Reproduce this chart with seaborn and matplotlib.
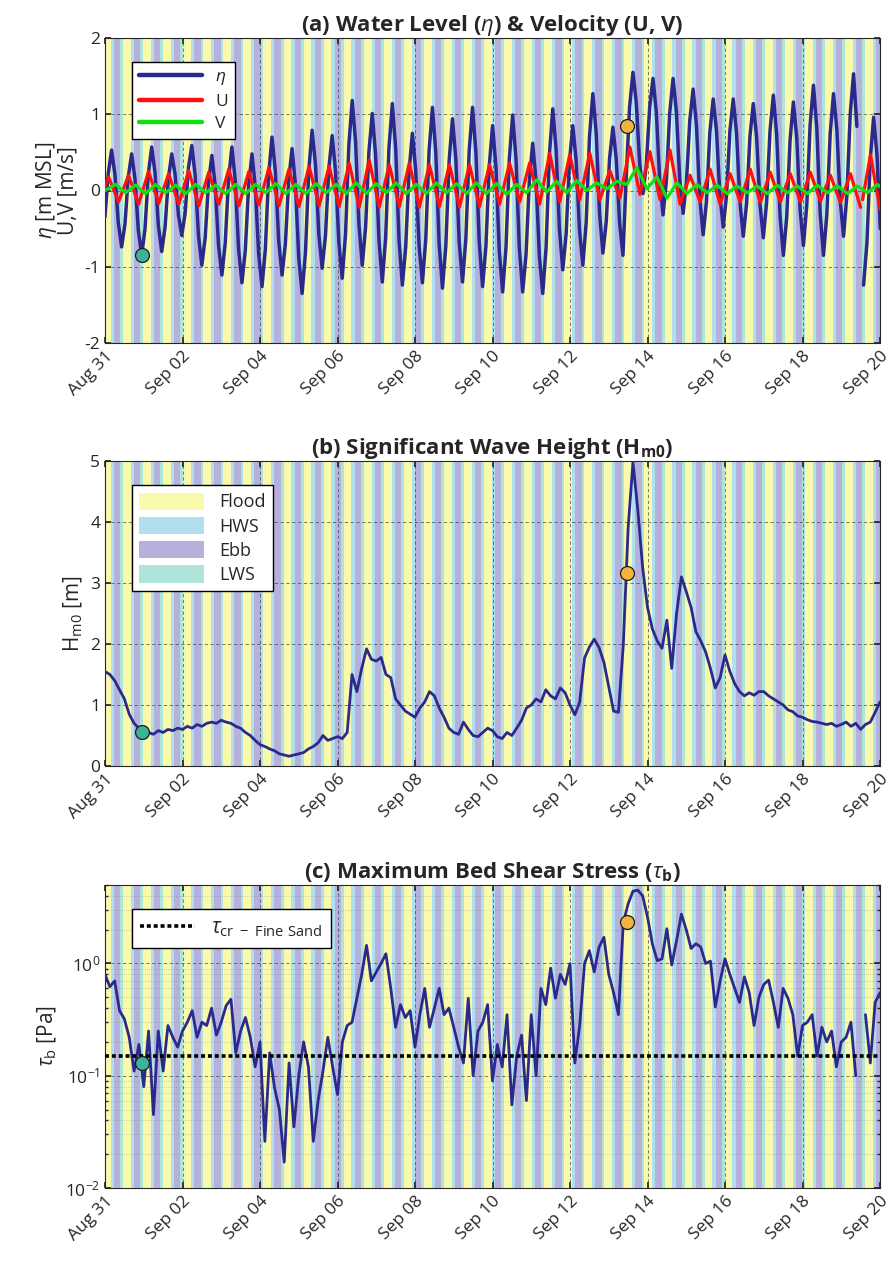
import numpy as np
import pandas as pd
import matplotlib
matplotlib.use("Agg")
import matplotlib.pyplot as plt
import matplotlib.dates as mdates
from matplotlib.patches import Patch
from matplotlib.lines import Line2D
import seaborn as sns

# ===========================
# 1. DATA
# ===========================
START = pd.Timestamp("2019-08-31")
M2 = 0.5175          # tidal period [days]
HW0, LW0 = 0.17, 0.43  # first high / low water [days after START]

# water level, sampled every M2/6 (~2 h) starting just before the first HW
ETA_T0 = -0.0025
eta = [-0.35, 0.22,
       0.53, 0.21, -0.42, -0.74, -0.44, 0.18,
       0.48, 0.15, -0.52, -0.85, -0.50, 0.22,
       0.57, 0.23, -0.46, -0.80, -0.48, 0.16,
       0.48, 0.21, -0.32, -0.59, -0.30, 0.30,
       0.59, 0.20, -0.59, -0.98, -0.62, 0.10,
       0.46, 0.07, -0.72, -1.11, -0.69, 0.15,
       0.57, 0.13, -0.77, -1.21, -0.79, 0.06,
       0.48, 0.05, -0.83, -1.26, -0.77, 0.21,
       0.70, 0.25, -0.66, -1.11, -0.70, 0.14,
       0.55, 0.08, -0.88, -1.35, -0.82, 0.26,
       0.79, 0.34, -0.57, -1.02, -0.59, 0.29,
       0.72, 0.25, -0.68, -1.15, -0.57, 0.60,
       1.18, 0.64, -0.44, -0.98, -0.48, 0.51,
       1.01, 0.46, -0.65, -1.20, -0.62, 0.56,
       1.14, 0.55, -0.65, -1.24, -0.74, 0.25,
       0.75, 0.26, -0.72, -1.21, -0.64, 0.52,
       1.09, 0.50, -0.69, -1.28, -0.73, 0.39,
       0.94, 0.41, -0.67, -1.20, -0.63, 0.52,
       1.09, 0.50, -0.67, -1.26, -0.73, 0.32,
       0.85, 0.31, -0.79, -1.33, -0.75, 0.41,
       0.99, 0.41, -0.75, -1.33, -0.84, 0.13,
       0.62, 0.13, -0.86, -1.35, -0.75, 0.47,
       1.07, 0.54, -0.51, -1.04, -0.57, 0.38,
       0.85, 0.39, -0.52, -0.98, -0.42, 0.71,
       1.27, 0.75, -0.30, -0.82, -0.41, 0.42,
       0.83, 0.41, -0.43, -0.85, 0.20, 1.10,
       1.55, 1.15, 0.36, -0.04, 0.34, 1.09,
       1.47, 1.02, 0.13, -0.32, 0.13, 1.02,
       1.47, 1.03, 0.14, -0.30, 0.11, 0.92,
       1.33, 0.85, -0.10, -0.58, -0.14, 0.76,
       1.20, 0.78, -0.06, -0.48, -0.06, 0.78,
       1.20, 0.75, -0.15, -0.60, -0.17, 0.71,
       1.14, 0.70, -0.18, -0.62, -0.15, 0.78,
       1.25, 0.73, -0.33, -0.85, -0.35, 0.66,
       1.16, 0.69, -0.25, -0.72, -0.20, 0.86,
       1.38, 0.82, -0.29, -0.85, -0.32, 0.74,
       1.27, 0.80, -0.13, -0.60, -0.07, 1.00,
       1.53, 0.84, np.nan, -1.24, -0.69, 0.41,
       0.96, 0.47, -0.50]

# velocity extremes, one per tide
u_max = [0.18, 0.20, 0.25, 0.22, 0.26, 0.24, 0.28, 0.25, 0.30, 0.28,
         0.32, 0.32, 0.36, 0.40, 0.34, 0.36, 0.34, 0.34, 0.34, 0.34,
         0.36, 0.36, 0.49, 0.47, 0.49, 0.26, 0.57, 0.51, 0.53, 0.20,
         0.28, 0.22, 0.28, 0.24, 0.22, 0.24, 0.20, 0.22, 0.47]
u_min = [-0.15, -0.18, -0.17, -0.18, -0.20, -0.18, -0.20, -0.19, -0.20, -0.21,
         -0.20, -0.21, -0.22, -0.22, -0.21, -0.22, -0.21, -0.22, -0.21,
         -0.18, -0.15, -0.18, -0.15, -0.12, -0.12, -0.10, -0.05, -0.12, -0.18,
         -0.15, -0.18, -0.15, -0.16, -0.15, -0.15, -0.14, -0.16, -0.22]
u_extra_t = [0.0, 19.55, 20.0]
u_extra_v = [0.05, -0.12, -0.25]

v_max = [0.08, 0.07, 0.08, 0.07, 0.08, 0.07, 0.08, 0.08, 0.09, 0.08,
         0.09, 0.08, 0.10, 0.09, 0.10, 0.08, 0.10, 0.09, 0.10, 0.09,
         0.08, 0.14, 0.12, 0.13, 0.10, 0.12, 0.30, 0.18, 0.10, 0.08,
         0.07, 0.06, 0.06, 0.07, 0.06, 0.07, 0.06, 0.06, 0.08]
v_min = [-0.03, -0.04, -0.03, -0.04, -0.03, -0.04, -0.04, -0.03, -0.04, -0.04,
         -0.03, -0.04, -0.04, -0.03, -0.04, -0.04, -0.03, -0.04, -0.04,
         -0.05, -0.03, -0.02, -0.03, 0.00, 0.02, 0.08, 0.02, -0.10, -0.04,
         -0.03, -0.04, -0.03, -0.04, -0.03, -0.04, -0.03, -0.04, -0.03]
v_extra_t = [0.0, 20.0]
v_extra_v = [0.0, 0.05]

# significant wave height, 3-hourly [m]
hm0 = [1.55, 1.50, 1.40, 1.25, 1.10, 0.85, 0.70, 0.62,
       0.58, 0.55, 0.52, 0.58, 0.55, 0.60, 0.58, 0.62,
       0.60, 0.65, 0.62, 0.68, 0.65, 0.70, 0.72, 0.70,
       0.75, 0.72, 0.70, 0.65, 0.62, 0.55, 0.50, 0.42,
       0.35, 0.32, 0.28, 0.25, 0.20, 0.18, 0.16, 0.18,
       0.20, 0.22, 0.28, 0.32, 0.38, 0.50, 0.42, 0.45,
       0.48, 0.45, 0.55, 1.50, 1.22, 1.60, 1.92, 1.75,
       1.72, 1.78, 1.50, 1.45, 1.10, 1.00, 0.90, 0.85,
       0.80, 0.95, 1.05, 1.22, 1.15, 0.95, 0.80, 0.62,
       0.55, 0.52, 0.72, 0.60, 0.50, 0.48, 0.55, 0.62,
       0.58, 0.48, 0.45, 0.55, 0.50, 0.62, 0.75, 0.95,
       1.00, 1.10, 1.05, 1.25, 1.15, 1.10, 1.28, 1.20,
       1.00, 0.84, 1.05, 1.77, 1.95, 2.08, 1.94, 1.70,
       1.30, 0.90, 0.88, 1.98, 3.90, 4.98, 4.20, 3.25,
       2.60, 2.25, 2.05, 1.93, 2.39, 1.60, 2.50, 3.10,
       2.86, 2.60, 2.20, 2.05, 1.87, 1.60, 1.28, 1.45,
       1.82, 1.55, 1.35, 1.22, 1.15, 1.20, 1.16, 1.22,
       1.22, 1.15, 1.10, 1.05, 1.00, 0.92, 0.89, 0.82,
       0.80, 0.76, 0.73, 0.72, 0.70, 0.68, 0.70, 0.65,
       0.68, 0.72, 0.65, 0.70, 0.60, 0.68, 0.72, 0.88,
       1.05]

# maximum bed shear stress, 3-hourly [Pa]
tau_b = [0.80, 0.62, 0.70, 0.38, 0.32, 0.22, 0.11, 0.19,
         0.08, 0.25, 0.045, 0.25, 0.11, 0.28, 0.22, 0.18,
         0.25, 0.30, 0.38, 0.22, 0.30, 0.28, 0.40, 0.23,
         0.30, 0.42, 0.48, 0.16, 0.25, 0.33, 0.22, 0.12,
         0.20, 0.026, 0.16, 0.078, 0.05, 0.017, 0.13, 0.035,
         0.10, 0.20, 0.12, 0.026, 0.06, 0.11, 0.22, 0.12,
         0.068, 0.20, 0.28, 0.30, 0.49, 0.80, 1.45, 0.70,
         0.84, 1.00, 1.22, 0.60, 0.27, 0.43, 0.33, 0.38,
         0.18, 0.35, 0.60, 0.27, 0.40, 0.60, 0.35, 0.40,
         0.27, 0.18, 0.13, 0.49, 0.10, 0.25, 0.30, 0.43,
         0.09, 0.19, 0.12, 0.35, 0.055, 0.15, 0.23, 0.06,
         0.35, 0.10, 0.60, 0.43, 0.91, 0.49, 0.80, 0.65,
         1.00, 0.13, 0.28, 1.00, 1.30, 0.84, 1.40, 1.71,
         0.80, 0.55, 0.35, 2.30, 3.40, 4.40, 4.50, 4.00,
         2.60, 1.50, 1.06, 1.10, 2.04, 0.97, 1.60, 2.75,
         2.00, 1.36, 1.50, 1.40, 1.00, 1.05, 0.41, 0.70,
         1.10, 0.80, 0.60, 0.45, 0.76, 0.55, 0.28, 0.50,
         0.65, 0.71, 0.45, 0.27, 0.60, 0.49, 0.35, 0.15,
         0.28, 0.30, 0.35, 0.15, 0.27, 0.20, 0.25, 0.12,
         0.20, 0.22, 0.30, 0.10, np.nan, 0.35, 0.13, 0.45,
         0.55]
TAU_CR = 0.15

# highlighted instants: (day, eta, hm0, tau)
calm_pt = [0.947, -0.85, 0.55, 0.13]
storm_pt = [13.46, 0.85, 3.16, 2.35]

# tidal phases for the background
phase_names = ["Flood", "HWS", "Ebb", "LWS"]
phase_colors = ["#FAFAAC", "#B0E0EF", "#B5B1DC", "#AEE5D8"]
phase_hours = [4.8, 2.0, 3.9, 1.72]
PHASE0 = -0.05

NAVY = "#2B2A8C"

# ===========================
# 2. HELPERS
# ===========================
def day(t):
    return START + pd.to_timedelta(np.asarray(t, dtype=float), unit="D")


def with_segments(t, v):
    # break the line wherever a value is missing
    df = pd.DataFrame({"t": t, "v": v}).sort_values("t")
    df["seg"] = df["v"].isna().cumsum()
    df = df.dropna()
    df["time"] = day(df["t"].values)
    return df


def tide_frame(hi, lo, shift, extra_t, extra_v, gap=None):
    t_hi = HW0 + shift + M2 * np.arange(len(hi))
    t_lo = LW0 + shift + M2 * np.arange(len(lo))
    t = np.concatenate([t_hi, t_lo, extra_t])
    v = np.concatenate([hi, lo, extra_v])
    df = pd.DataFrame({"t": t, "v": v}).sort_values("t")
    df["seg"] = 0 if gap is None else (df["t"] > gap).astype(int)
    df["time"] = day(df["t"].values)
    return df


def add_phases(ax):
    starts = np.arange(PHASE0, 20.0, M2)
    for s in starts:
        t = s
        for col, hrs in zip(phase_colors, phase_hours):
            ax.axvspan(day(t), day(t + hrs / 24.0), color=col, lw=0, zorder=0.1)
            t += hrs / 24.0


def style(ax):
    ax.set_xlim(day(0), day(20))
    ax.set_xticks(pd.date_range(START, periods=11, freq="2D"))
    ax.xaxis.set_major_formatter(mdates.DateFormatter("%b %d"))
    ax.set_axisbelow("line")
    ax.grid(True, which="major", ls=(0, (4, 3)), color="0.25", lw=0.6, alpha=0.8)
    ax.tick_params(direction="in", top=True, right=True, length=4, labelsize=12.5)
    ax.tick_params(which="minor", direction="in", top=False, right=True, length=2)
    for lab in ax.get_xticklabels():
        lab.set_rotation(45)
        lab.set_ha("right")
        lab.set_rotation_mode("anchor")
    for sp in ax.spines.values():
        sp.set_color("0.15")
        sp.set_linewidth(0.8)
    ax.set_xlabel("")


def dot(ax, x, y, col):
    ax.plot(day([x]), [y], "o", ms=10, mfc=col, mec="0.1", mew=0.9, zorder=6)


# ===========================
# 3. FIGURE
# ===========================
sns.set_theme(style="ticks")
plt.rcParams["font.family"] = ["Open Sans", "DejaVu Sans"]
plt.rcParams["mathtext.fontset"] = "custom"
plt.rcParams["mathtext.rm"] = "Open Sans"
plt.rcParams["mathtext.it"] = "Open Sans:italic"
plt.rcParams["mathtext.bf"] = "Open Sans:bold"
plt.rcParams["axes.unicode_minus"] = False

TITLE_FS = 16
LABEL_FS = 15

fig = plt.figure(figsize=(8.94, 12.64), dpi=100)
L, W = 105 / 894, 775 / 894
ax_a = fig.add_axes([L, 1 - 343 / 1264, W, 305 / 1264])
ax_b = fig.add_axes([L, 1 - 766 / 1264, W, 305 / 1264])
ax_c = fig.add_axes([L, 1 - 1188 / 1264, W, 303 / 1264])

leg_kw = dict(loc="upper left", bbox_to_anchor=(0.035, 0.92), borderaxespad=0,
              fancybox=False, framealpha=1, edgecolor="black")

# ---- (a) water level & velocity
t_eta = ETA_T0 + np.arange(len(eta)) * M2 / 6
df_eta = with_segments(t_eta, eta)
df_u = tide_frame(u_max, u_min, -0.08, u_extra_t, u_extra_v, gap=19.52)
df_v = tide_frame(v_max, v_min, 0.10, v_extra_t, v_extra_v)

add_phases(ax_a)
sns.lineplot(data=df_eta, x="time", y="v", units="seg", estimator=None,
             color=NAVY, lw=2.5, ax=ax_a, zorder=3)
sns.lineplot(data=df_u, x="time", y="v", units="seg", estimator=None,
             color="#FF1010", lw=2.3, ax=ax_a, zorder=4)
sns.lineplot(data=df_v, x="time", y="v", units="seg", estimator=None,
             color="#10E010", lw=2.3, ax=ax_a, zorder=5)
dot(ax_a, calm_pt[0], calm_pt[1], "#3BB39A")
dot(ax_a, storm_pt[0], storm_pt[1], "#F4B23E")
ax_a.set_ylim(-2, 2)
ax_a.set_yticks([-2, -1, 0, 1, 2])
ax_a.set_ylabel("$\\eta$ [m MSL]\nU,V [m/s]", fontsize=LABEL_FS, linespacing=0.95)
ax_a.set_title("(a) Water Level ($\\eta$) & Velocity (U, V)", fontsize=TITLE_FS,
               fontweight="bold", pad=5)
handles = [Line2D([], [], color=NAVY, lw=3.2), Line2D([], [], color="#FF1010", lw=3.2),
           Line2D([], [], color="#10E010", lw=3.2)]
ax_a.legend(handles, ["$\\eta$", "U", "V"], fontsize=12.5, handlelength=3.6,
            labelspacing=0.35, **leg_kw)
style(ax_a)

# ---- (b) significant wave height
t3 = day(np.arange(len(hm0)) * 0.125)
df_h = pd.DataFrame({"time": t3, "hm0": hm0})
add_phases(ax_b)
sns.lineplot(data=df_h, x="time", y="hm0", color=NAVY, lw=2.0, ax=ax_b, zorder=3)
dot(ax_b, calm_pt[0], calm_pt[2], "#3BB39A")
dot(ax_b, storm_pt[0], storm_pt[2], "#F4B23E")
ax_b.set_ylim(0, 5)
ax_b.set_yticks(range(6))
ax_b.set_ylabel("H$_{\\mathregular{m0}}$ [m]", fontsize=LABEL_FS)
ax_b.set_title("(b) Significant Wave Height (H$_{\\mathbf{m0}}$)", fontsize=TITLE_FS,
               fontweight="bold", pad=5)
patches = [Patch(facecolor=c, edgecolor="none") for c in phase_colors]
ax_b.legend(patches, phase_names, fontsize=13, handlelength=3.6, handleheight=1.1,
            labelspacing=0.3, **leg_kw)
style(ax_b)

# ---- (c) bed shear stress
t_tau = np.arange(len(tau_b)) * 0.125
df_t = with_segments(t_tau, tau_b)
add_phases(ax_c)
sns.lineplot(data=df_t, x="time", y="v", units="seg", estimator=None,
             color=NAVY, lw=2.0, ax=ax_c, zorder=3)
ax_c.axhline(TAU_CR, color="black", lw=2.6, ls=(0, (1.1, 0.8)), zorder=4)
dot(ax_c, calm_pt[0], calm_pt[3], "#3BB39A")
dot(ax_c, storm_pt[0], storm_pt[3], "#F4B23E")
ax_c.set_yscale("log")
ax_c.set_ylim(1e-2, 5)
ax_c.set_yticks([1e-2, 1e-1, 1e0])
ax_c.grid(True, which="minor", axis="y", ls=(0, (1, 2)), color="0.45", lw=0.5, alpha=0.6)
ax_c.set_ylabel("$\\tau_{\\mathregular{b}}$ [Pa]", fontsize=LABEL_FS)
ax_c.set_title("(c) Maximum Bed Shear Stress ($\\tau_{\\mathbf{b}}$)", fontsize=TITLE_FS,
               fontweight="bold", pad=5)
ax_c.legend([Line2D([], [], color="black", lw=2.6, ls=(0, (1.1, 0.8)))],
            ["$\\tau_{\\mathregular{cr\\ -\\ Fine\\ Sand}}$"], fontsize=15,
            handlelength=2.6, **leg_kw)
style(ax_c)

fig.savefig("out.png", dpi=100)
plt.close(fig)
